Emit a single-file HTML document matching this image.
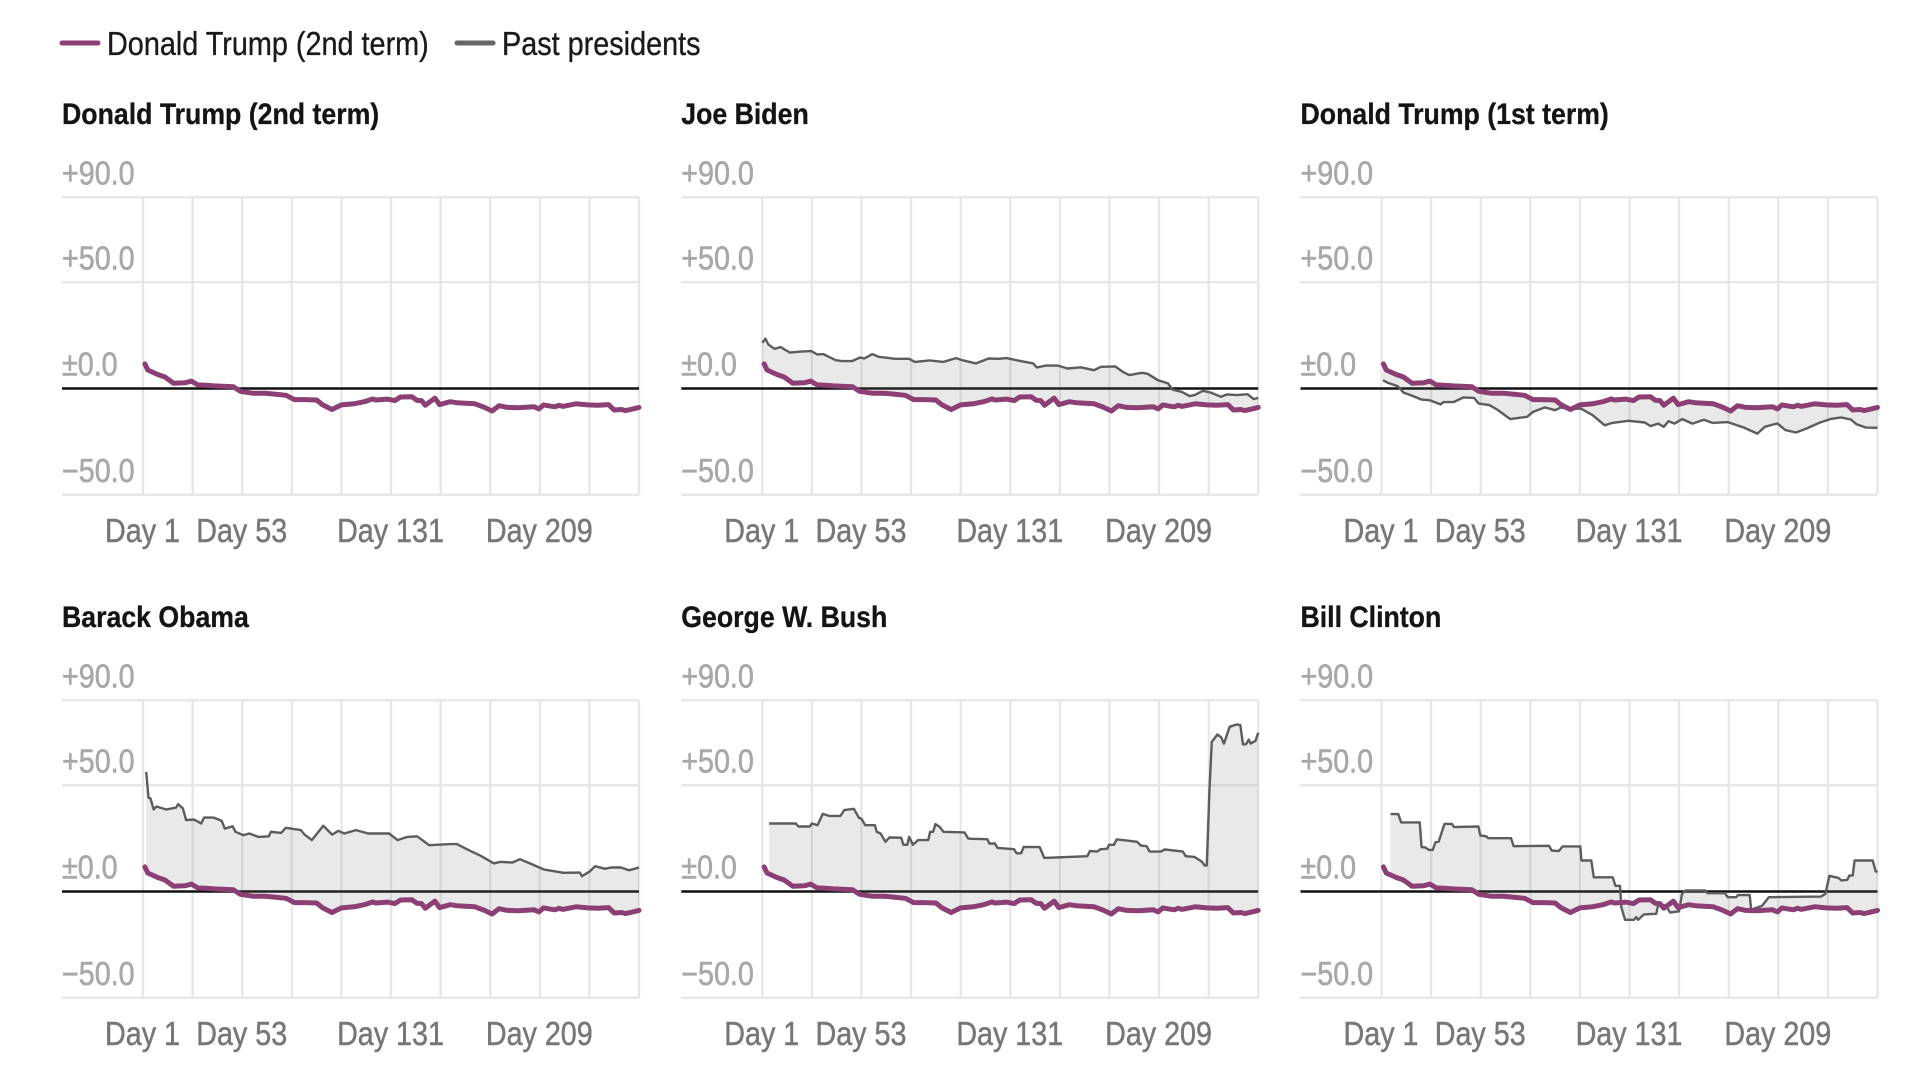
<!DOCTYPE html>
<html lang="en">
<head>
<meta charset="utf-8">
<title>Net approval: Donald Trump (2nd term) vs past presidents</title>
<style>
  html, body { margin: 0; padding: 0; background: #fff; }
  svg { display: block; }
  text { font-family: "Liberation Sans", sans-serif; }
  .legend-text { font-size: 33px; fill: #1a1a1a; stroke: #1a1a1a; stroke-width: 0.35px; }
  .title-text { font-size: 30px; font-weight: bold; fill: #141414; stroke: #141414; stroke-width: 0.3px; }
  .y-tick { font-size: 33px; fill: #a8a8a8; stroke: #a8a8a8; stroke-width: 0.6px; }
  .x-tick { font-size: 33px; fill: #777; stroke: #777; stroke-width: 0.5px; }
</style>
</head>
<body>
<svg id="chart" xmlns="http://www.w3.org/2000/svg" width="1914" height="1070" viewBox="0 0 1914 1070">
  <g>
    <line x1="62" y1="43" x2="98" y2="43" stroke="#8c3f74" stroke-width="5" stroke-linecap="round"/>
    <text class="legend-text" transform="translate(107,55) scale(0.873,1)">Donald Trump (2nd term)</text>
    <line x1="457" y1="43" x2="493" y2="43" stroke="#666" stroke-width="5" stroke-linecap="round"/>
    <text class="legend-text" transform="translate(502,55) scale(0.873,1)">Past presidents</text>
  </g>
</svg>
<script>
const panelTitles = ['Donald Trump (2nd term)', 'Joe Biden', 'Donald Trump (1st term)', 'Barack Obama', 'George W. Bush', 'Bill Clinton'];
const panelKeys = ['trump-2nd', 'biden', 'trump-1st', 'obama', 'bush', 'clinton'];

const yTickValues = [90, 50, 0, -50];
const yTickLabels = ['+90.0', '+50.0', '±0.0', '−50.0'];
const xGridDays = [1, 27, 53, 79, 105, 131, 157, 183, 209, 235, 261];
const xTickDays = [1, 53, 131, 209];
const xTickLabels = ['Day 1', 'Day 53', 'Day 131', 'Day 209'];

const trumpDays = [2,3.5,8.7,12.5,17,23,26.4,29.7,34,38.5,48.4,52,58.4,65,70.5,76,80.4,86,92,95,100,105,111.6,117,121.5,123,129,133,136,142,144.5,147,149,154,156.5,162,165.5,175,180,184,187.6,192,197.5,206,208.5,211,214,217,219,221,228,234,239.5,245,248,252,254,257.5,261];
const trumpValues = [11.6,8.7,6.6,5.4,2.5,2.7,3.5,1.7,1.5,1.2,0.8,-1.3,-2.2,-2.2,-2.7,-3.2,-5.2,-5.2,-5.4,-7.6,-9.9,-7.7,-7.2,-6.2,-4.9,-5.4,-5,-5.7,-4,-3.9,-5.5,-5.7,-7.9,-4.5,-7.6,-6.2,-6.7,-7.2,-8.9,-10.6,-8.1,-8.9,-9.1,-8.6,-9.6,-7.7,-8.2,-8.6,-7.9,-8.4,-7.2,-7.7,-7.9,-7.6,-10.1,-9.9,-10.4,-9.7,-8.9];

const bidenDays = [1,2.7,4.2,7.4,10.6,15.5,20.2,26.7,29.9,33,39.5,42.7,48,52.3,54.5,58.7,62,70.5,78,81,88.7,96,102.6,105.8,113,119.7,125,129,134.8,143,145,149.6,156,161,168,175,178.5,186,190,193.4,200,203,208.4,213.7,216,221,225,227.6,232,236,241.5,244.7,250,255.4,258.6,261];
const bidenValues = [21.5,23.4,20.7,18.7,19.5,16.9,17.3,17.6,16,16.2,13.3,12.9,12.9,14.6,14.1,16.2,14.9,14,14,12.5,13.2,12.5,14.3,13.3,11.8,14.1,14,14.3,13.2,11.8,9.9,10.8,10.8,9.4,10,8.6,10.2,10.4,7.8,6.3,7.4,6.9,3.9,2.4,-0.5,-1.6,-3.6,-3.1,-1.1,-1.9,-3.9,-2.8,-3.1,-2.7,-5,-4.4];

const trumpFirstDays = [1.8,4.3,9.5,12.7,16.8,22,26.2,32,33.5,38.7,44,49.5,52,57.5,61.6,68.5,77.3,80.4,86.7,92,95,99,105.4,111.6,118,122,130.5,139,142,146,149,151.5,154.6,158.7,164,170,174.5,182.5,191,198,202,206.5,208.6,212.7,218.3,224,230.4,236.6,241.8,247,250,255,261];
const trumpFirstValues = [3.9,2.7,1.1,-2,-3.3,-5.2,-5.5,-7.5,-6.4,-6.4,-4.2,-4.4,-7.1,-7.8,-9.9,-14.4,-13.3,-11,-8.9,-10.2,-8.9,-9.7,-9.4,-12.5,-17.3,-16.2,-15.2,-16,-17.7,-16.5,-18,-15.4,-16.5,-14.4,-16.5,-14.7,-16.2,-15.8,-18.4,-21.2,-18,-16.9,-16.5,-19.6,-20.7,-18.8,-16.2,-14.3,-13.6,-14.6,-16.8,-18.4,-18.5];

const obamaDays = [2.7,3.9,4.9,6.6,8,13.2,18.4,19.4,21.9,23.6,27.7,31.5,33,38,42.2,43.9,48,49.5,53.6,56.7,61.5,67,68,73.5,75.8,83.7,85.7,89.5,93,95.5,100.2,103.4,106.5,112.7,119,130,134.4,139.6,144.7,151,162.4,165.5,171.7,178,185,188.3,194.5,198.6,203.8,211,221.4,230,231,235,238,243.2,246.3,251.5,255.7,261];
const obamaValues = [56.3,44.2,43.8,38.6,40,38.6,39.5,41.1,39.1,33.6,33.9,32,34.8,34.8,33.3,29.6,30.7,28.1,26.5,27.3,25.7,26,28.1,27.6,30,28.9,26.8,24.2,28.1,30.9,26.8,28.5,27.3,28.9,27.3,27.3,24.2,25.7,26,21.8,22.3,22.3,19.5,16.8,13.2,14,13.6,15.2,13.2,10.4,8.8,8.9,7.2,9.3,11.9,10.7,11.3,11.3,10,11.3];

const bushDays = [4.6,18.6,20,26,27,30,32.7,36,42,44,49,51.7,53,55,60,61,63,65.6,67.6,73.8,75,77,78,80,82.6,88,89,90.6,91.8,94,96,107,109,111,119,120,123,124.3,133,134.3,136.7,138,146.4,148.8,171.4,172.8,176.4,178.4,181.8,182.8,185.4,186.8,190,197.5,199.5,202.5,204,210,212,221.5,223,227.5,231.5,233,234,235.4,236.6,239.6,241.6,243,246,249.6,251.6,253,254.6,256,257,259.6,261];
const bushValues = [32,32,30.6,30.6,32,31.2,36.5,35.6,35.6,38.3,38.9,34.7,34.2,31.2,31.2,28.1,27.3,23.4,25.4,25.3,22,22,25.7,22,24.2,24.2,28.1,28.1,31.7,30.4,28.1,27.8,24.9,24.8,24.6,22.6,22.6,20.5,19.9,18,18,21,20.9,15.8,16.6,19.1,18.8,19.9,20.1,22,22,24.5,24.2,23.4,21.6,21.3,18.8,18.8,19.8,18.8,16.6,16.3,14,12.2,12.2,47.7,70.4,73.9,72.5,69.6,77.5,78.6,78.3,69.2,69.3,71.5,69.6,70.9,74.8];

const clintonDays = [5.7,9.8,11.3,21,22,24,25.8,27.9,29.3,31,34,37.9,39,51.8,52.8,55.9,57,68.9,70.3,88.8,90.2,93.9,96,105.2,105.8,111,112.3,122.2,123.6,126,126.7,128.7,133.3,134.5,135.5,138.6,145,146.2,150,152.3,157,158.5,160.5,170.7,171.8,181,182.5,187,187.8,194,194.8,200.5,204,231.3,233.7,235.8,240.5,242,245.2,246.2,248,249,258.5,260,261];
const clintonValues = [36.4,36.4,32.5,32.5,20.9,20.7,19.6,19.6,23.2,23.5,31.8,31.8,30.3,30.6,26.4,26,25.1,25.1,21.3,21.5,19.3,19,21.2,21.2,14.6,14.6,6.7,6.7,2.7,2.7,-7.4,-13.3,-13.3,-12.1,-13.3,-10.8,-10.5,-5.8,-6.6,-9.9,-9.3,-1.1,0.5,0.5,-0.8,-0.8,-2.7,-2.7,-1.7,-1.7,-8.6,-6.7,-2.7,-2.4,-1.1,7.4,6.4,5.2,5.5,7.5,7.5,14.6,14.6,9.6,9.1];

const pastDaysByPanel = [null, bidenDays, trumpFirstDays, obamaDays, bushDays, clintonDays];
const pastValuesByPanel = [null, bidenValues, trumpFirstValues, obamaValues, bushValues, clintonValues];

const SVG_NS = 'http://www.w3.org/2000/svg';
const svgRoot = document.getElementById('chart');
const COLUMN_STEP = 619.25;
const ROW_STEP = 503;
const PANEL_LEFT = 62;
const PLOT_RIGHT = 639;
const DAY_ONE_X = 143;
const PX_PER_DAY = (PLOT_RIGHT - DAY_ONE_X) / 260;
const ZERO_Y = 388.5;
const PX_PER_POINT = 2.125;
const TEXT_SQUEEZE = 0.87;
const TITLE_SQUEEZE = 0.89;

function xScale(day) { return DAY_ONE_X + (day - 1) * PX_PER_DAY; }
function yScale(value) { return ZERO_Y - value * PX_PER_POINT; }

function make(parent, tag, attrs) {
  const el = document.createElementNS(SVG_NS, tag);
  for (const key in attrs) el.setAttribute(key, attrs[key]);
  parent.appendChild(el);
  return el;
}
function pointList(days, values) {
  return days.map(function (d, i) { return xScale(d).toFixed(1) + ',' + yScale(values[i]).toFixed(1); });
}
function trumpAt(day) {
  if (day <= trumpDays[0]) return trumpValues[0];
  for (let i = 1; i < trumpDays.length; i++) {
    if (day <= trumpDays[i]) {
      const t = (day - trumpDays[i - 1]) / (trumpDays[i] - trumpDays[i - 1]);
      return trumpValues[i - 1] + t * (trumpValues[i] - trumpValues[i - 1]);
    }
  }
  return trumpValues[trumpValues.length - 1];
}

panelTitles.forEach(function (title, p) {
  const col = p % 3;
  const row = Math.floor(p / 3);
  const key = panelKeys[p];

  const panel = make(svgRoot, 'g', { transform: 'translate(' + (col * COLUMN_STEP) + ',' + (row * ROW_STEP) + ')' });
  
  

  const titleEl = make(panel, 'text', { 'class': 'title-text', transform: 'translate(' + PANEL_LEFT + ',124) scale(' + TITLE_SQUEEZE + ',1)' });
  titleEl.textContent = title;
  
  

  xGridDays.forEach(function (day) {
    const gridX = make(panel, 'line', { x1: xScale(day), x2: xScale(day), y1: yScale(90), y2: yScale(-50), stroke: '#e6e6e6', 'stroke-width': 2.2 });
    
    
  });

  yTickValues.forEach(function (value, i) {
    if (value !== 0) {
      const gridY = make(panel, 'line', { x1: PANEL_LEFT, x2: PLOT_RIGHT, y1: yScale(value), y2: yScale(value), stroke: '#e6e6e6', 'stroke-width': 2.2 });
      
      
    }
    const tick = make(panel, 'text', { 'class': 'y-tick', transform: 'translate(' + PANEL_LEFT + ',' + (yScale(value) - 13) + ') scale(' + TEXT_SQUEEZE + ',1)' });
    tick.textContent = yTickLabels[i];
    
    
  });

  const zero = make(panel, 'line', { x1: PANEL_LEFT, x2: PLOT_RIGHT, y1: yScale(0), y2: yScale(0), stroke: '#111', 'stroke-width': 2.6 });
  
  

  xTickDays.forEach(function (day, i) {
    const tick = make(panel, 'text', { 'class': 'x-tick', 'text-anchor': 'middle', transform: 'translate(' + (xScale(day) - 0.5) + ',542) scale(' + TEXT_SQUEEZE + ',1)' });
    tick.textContent = xTickLabels[i];
    
    
  });

  const pastDays = pastDaysByPanel[p];
  const pastValues = pastValuesByPanel[p];
  if (pastDays) {
    const start = pastDays[0];
    const trumpIdx = trumpDays.map(function (d, i) { return i; }).filter(function (i) { return trumpDays[i] > start; });
    const lowerDays = [start].concat(trumpIdx.map(function (i) { return trumpDays[i]; }));
    const lowerValues = [trumpAt(start)].concat(trumpIdx.map(function (i) { return trumpValues[i]; }));
    const area = make(panel, 'polygon', {
      points: pointList(pastDays, pastValues).concat(pointList(lowerDays, lowerValues).reverse()).join(' '),
      fill: 'rgb(120,120,120)', 'fill-opacity': 0.16
    });
    
    

    const pastLine = make(panel, 'polyline', {
      points: pointList(pastDays, pastValues).join(' '),
      fill: 'none', stroke: '#5c5c5c', 'stroke-width': 2.4, 'stroke-linejoin': 'round'
    });
    
    
  }

  const trumpLine = make(panel, 'polyline', {
    points: pointList(trumpDays, trumpValues).join(' '),
    fill: 'none', stroke: '#8c3f74', 'stroke-width': 5, 'stroke-linejoin': 'round', 'stroke-linecap': 'round'
  });
  
  
});
</script>
</body>
</html>
